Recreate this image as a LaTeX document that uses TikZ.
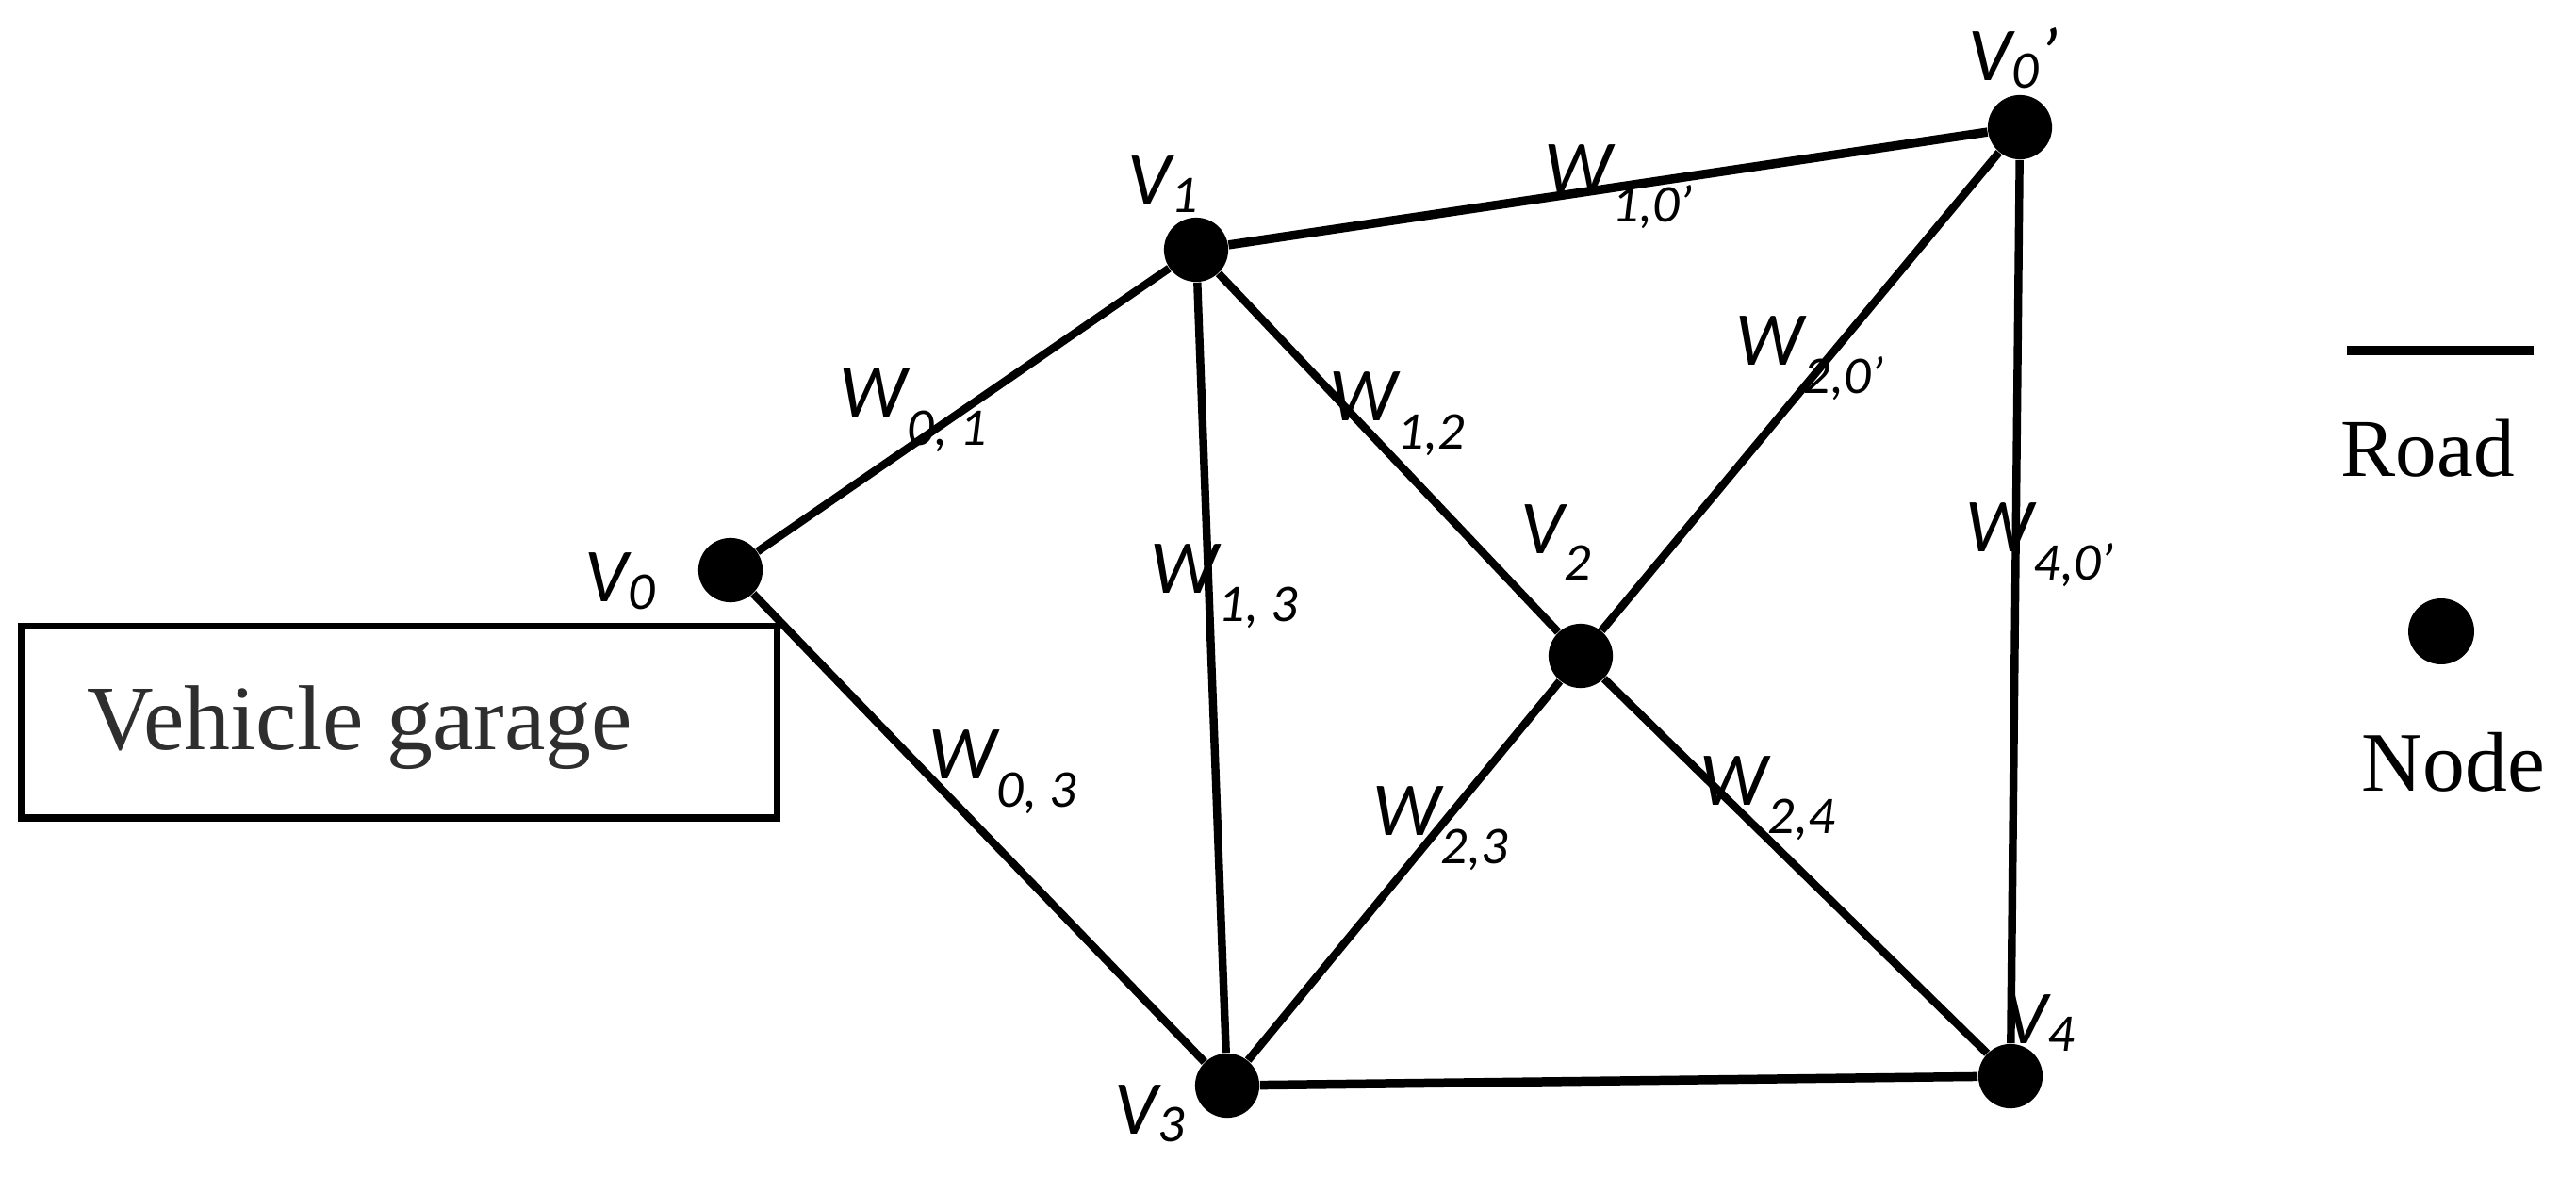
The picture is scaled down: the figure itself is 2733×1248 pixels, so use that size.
\documentclass[tikz,border=0pt]{standalone}
\usepackage{fontspec}
\setmainfont{Liberation Serif}
\newfontfamily\labfont{Carlito}
\newcommand{\wsub}[1]{\raisebox{-8.7pt}{\fontsize{16}{16}\selectfont #1}}
\newcommand{\vsub}[1]{\raisebox{-2.3pt}{\fontsize{16}{16}\selectfont #1}}
\newcommand{\vsubb}[1]{\raisebox{-8pt}{\fontsize{16}{16}\selectfont #1}}
\begin{document}
\begin{tikzpicture}[x=0.01cm,y=-0.01cm,
  vtx/.style={circle,fill=black,inner sep=0pt,minimum size=19.4pt},
  road/.style={line width=2.4pt},
  thickroad/.style={line width=2.7pt},
  lab/.style={anchor=base west,inner sep=0pt,font=\labfont\itshape\fontsize{23}{23}\selectfont},
  legtext/.style={anchor=base west,inner sep=0pt},
]
\useasboundingbox (0,0) rectangle (2733,1248);

% vertices
\node[vtx] (v0) at (775,605) {};
\node[vtx] (v1) at (1269,265) {};
\node[vtx] (v0p) at (2143,135) {};
\node[vtx] (v2) at (1677,696) {};
\node[vtx] (v3) at (1302,1152) {};
\node[vtx] (v4) at (2133,1142) {};

% roads
\draw[road] (v0) -- (v1);
\draw[road] (v0) -- (v3);
\draw[thickroad] (v1) -- (v0p);
\draw[road] (v1) -- (v2);
\draw[road] (v1) -- (v3);
\draw[road] (v2) -- (v0p);
\draw[road] (v2) -- (v3);
\draw[road] (v2) -- (v4);
\draw[road] (v0p) -- (v4);
\draw[thickroad] (v3) -- (v4);

% vertex labels
\node[lab] (lv0) at (620,638) {V\vsub{0}};
\node[lab] (lv1) at (1196,217) {V\vsub{1}};
\node[lab] (lv0p) at (2088,85) {V\vsub{0}’};
\node[lab] (lv2) at (1613,587) {V\vsubb{2}};
\node[lab] (lv3) at (1182,1203) {V\vsub{3}};
\node[lab] (lv4) at (2126,1107) {V\vsub{4}};

% weight labels
\node[lab] (w01) at (890,442) {W\wsub{0, 1}};
\node[lab] (w12) at (1410,446) {W\wsub{1,2}};
\node[lab] (w13) at (1220,629) {W\wsub{1, 3}};
\node[lab] (w03) at (985,826) {W\wsub{0, 3}};
\node[lab] (w23) at (1456,886) {W\wsub{2,3}};
\node[lab] (w10p) at (1638,205) {W\wsub{1,0’}};
\node[lab] (w20p) at (1841,387) {W\wsub{2,0’}};
\node[lab] (w24) at (1803,854) {W\wsub{2,4}};
\node[lab] (w40p) at (2085,585) {W\wsub{4,0’}};

% garage
\node[draw,line width=2pt,inner sep=0pt,minimum width=227.9pt,minimum height=58pt] (garage) at (423.5,766) {};
\node[legtext,text=black!82,font=\fontsize{27.8}{27.8}\selectfont] (garagetext) at (92,795) {Vehicle garage};

% legend
\coordinate (legl) at (2490,372);
\coordinate (legr) at (2688,372);
\draw[line width=2.8pt] (legl) -- (legr);
\node[legtext,font=\fontsize{24.8}{24.8}\selectfont] (roadtext) at (2483,505) {Road};
\node[vtx,minimum size=19.9pt] (legdot) at (2590,670) {};
\node[legtext,font=\fontsize{25.5}{25.5}\selectfont] (nodetext) at (2505,839) {Node};
\end{tikzpicture}
\end{document}
